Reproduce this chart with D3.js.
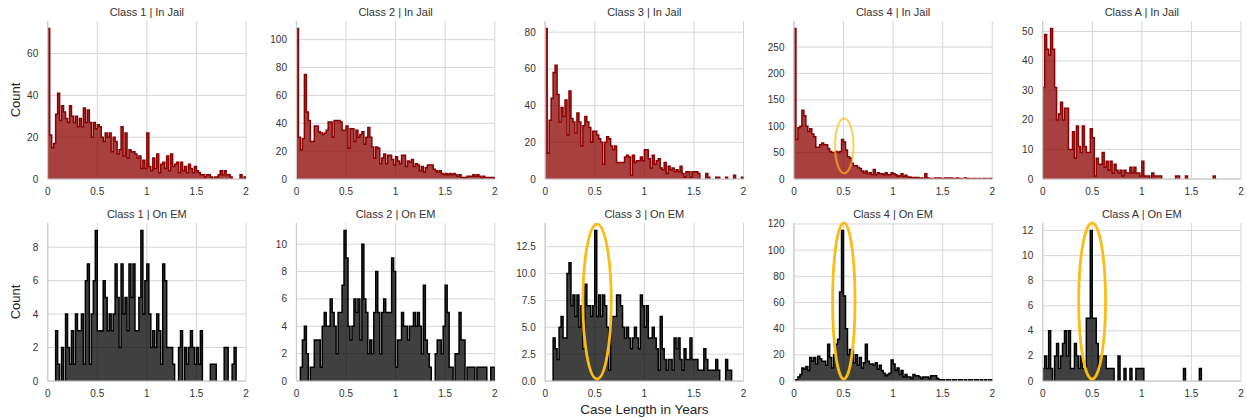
<!DOCTYPE html>
<html>
<head>
<meta charset="utf-8">
<script src="https://cdn.jsdelivr.net/npm/d3@7"></script>
<style>
  body { margin: 0; background: #fff; }
  text { font-family: "Liberation Sans", Arial, sans-serif; }
</style>
</head>
<body>
<svg id="chart" width="1247" height="419"></svg>
<script>
// bins of 0.02 years, starting at 0
var binWidth = 0.02;
var classes = ["Class 1", "Class 2", "Class 3", "Class 4", "Class A"];
var statuses = ["In Jail", "On EM"];
var xTicks = [0, 0.5, 1, 1.5, 2];

var jail1 = [72,21,15,17,31,41,28,35,32,29, 27,35,30,27,30,25,29,25,34,27,
  33,27,20,27,24,26,25,20,18,22, 20,22,13,20,18,12,14,25,11,22,
  10,14,13,13,12,10,11,5,9,5, 22,6,4,10,5,12,3,7,8,5,
  11,4,12,6,7,8,3,8,4,6, 3,7,5,3,6,4,3,2,2,1,
  2,2,1,0,1,1,2,4,2,4, 2,2,1,0,0,0,0,2,0,1];
var jail2 = [108,30,21,29,75,48,42,27,27,38, 38,34,33,32,33,35,41,41,30,42,
  42,42,41,35,35,38,22,36,36,27, 35,30,32,34,25,30,37,30,23,15,
  23,22,11,15,18,11,17,17,14,10, 16,13,11,17,17,9,13,12,14,9,
  11,10,6,9,5,8,10,10,10,7, 6,5,6,4,3,4,3,4,3,4,
  3,2,3,1,1,1,2,2,2,3, 2,3,2,1,2,1,1,1,1,1];
var jail3 = [82,14,32,44,58,62,46,31,39,34, 43,24,48,33,31,25,36,31,18,29,
  34,31,28,20,26,26,24,22,20,8, 20,23,22,18,16,18,9,9,9,9,
  12,13,12,2,13,9,10,10,12,10, 16,16,11,6,13,8,10,11,6,5,
  9,3,7,5,6,4,5,4,7,3, 1,4,4,1,4,4,4,3,0,0,
  0,3,1,0,0,0,1,1,0,0, 0,1,0,0,0,2,0,0,0,1];
var jail4 = [285,75,97,100,130,120,100,90,95,85, 80,60,60,65,68,65,65,58,52,50,
  50,52,50,52,75,70,55,42,40,30, 25,25,22,20,15,12,15,10,12,8,
  18,8,12,10,10,8,12,8,8,12, 10,8,5,6,10,5,7,4,4,3,
  3,3,3,2,2,1,10,2,1,1, 0,2,2,2,1,1,2,1,2,2,
  1,1,2,1,1,0,2,1,1,0, 1,1,0,1,0,1,1,0,1,1];
var jailA = [31,49,44,42,51,44,31,20,22,26, 20,24,24,10,10,16,7,18,11,9,
  18,11,9,9,17,14,1,7,5,5, 9,4,6,3,6,2,5,3,2,3,
  1,3,2,2,4,2,4,2,2,1, 6,1,1,1,0,2,1,1,1,1,
  0,0,0,0,0,0,0,1,1,0, 0,0,1,0,0,0,0,0,0,0,
  0,0,0,0,0,0,1,0,0,0, 0,0,0,0,0,0,0,0,0,0];

var em1 = [0,0,0,0,3,1,0,2,0,4, 2,1,3,1,4,3,3,4,1,6,
  7,1,4,6,9,3,3,3,6,5, 3,4,3,4,7,5,2,7,4,5,
  3,7,5,7,3,3,5,9,4,6, 7,4,2,3,2,4,3,1,7,6,
  2,2,2,1,0,0,2,3,0,2, 1,2,3,2,1,2,1,3,0,0,
  0,0,1,1,1,0,0,0,0,2, 2,0,0,1,2,0,0,0,0,0];
var em2 = [0,0,1,3,4,2,0,1,1,3, 3,3,1,4,5,4,4,6,5,4,
  2,5,5,7,11,9,4,3,4,6, 5,6,3,10,6,5,2,3,2,5,
  8,5,2,5,6,5,5,5,9,8, 1,3,3,5,4,4,3,4,4,5,
  4,5,4,2,7,3,2,1,0,0, 2,3,3,2,4,7,5,1,1,0,
  2,2,5,3,3,0,1,1,1,1, 0,1,1,1,1,1,0,0,1,1];
var em3 = [0,0,0,0,4,3,2,5,6,4, 4,10,11,7,8,6,8,5,7,3,
  9,7,7,6,7,14,6,8,6,8, 7,5,1,6,6,6,8,8,7,5,
  4,5,4,3,4,5,4,3,8,7, 5,7,4,4,5,4,3,1,6,3,
  2,1,2,2,1,4,3,4,2,1, 3,2,2,4,2,2,2,1,1,1,
  3,2,1,1,1,1,2,1,0,0, 0,2,1,1,0,0,0,0,0,0];
var em4 = [0,1,3,5,10,9,11,8,18,15, 18,13,19,17,15,15,12,28,18,10,
  20,28,32,68,115,65,40,20,24,24, 14,20,12,18,10,14,28,15,13,13,
  12,14,9,12,8,6,4,5,6,16, 13,8,10,5,8,3,5,3,3,2,
  5,4,4,3,2,3,3,3,2,4, 4,4,2,1,1,1,0,1,1,0,
  1,1,0,1,1,0,1,0,1,1, 0,1,1,0,1,0,1,0,1,1];
var emA = [1,2,1,4,1,0,2,3,1,2, 3,4,2,4,1,1,3,2,1,2,
  1,1,5,5,12,5,5,3,1,2, 2,2,1,1,1,1,0,0,2,0,
  0,1,0,0,1,0,0,1,1,1, 1,0,0,0,0,0,0,0,0,0,
  0,0,0,0,0,0,0,0,0,0, 0,1,0,0,0,0,0,0,0,1,
  0,0,0,0,0,0,0,0,0,0, 0,0,0,0,0,0,0,0,0,0];

var jailCounts = [jail1, jail2, jail3, jail4, jailA];
var emCounts = [em1, em2, em3, em4, emA];

var jailTicks = [[0,20,40,60], [0,20,40,60,80,100], [0,20,40,60,80],
  [0,50,100,150,200,250], [0,10,20,30,40,50]];
var emTicks = [[0,2,4,6,8], [0,2,4,6,8,10], [0,2.5,5,7.5,10,12.5],
  [0,20,40,60,80,100,120], [0,2,4,6,8,10,12]];

// highlighted spikes (data coordinates of each panel)
var highlights = [
  {row: 0, col: 3, x: [0.414, 0.6], y: [10.8, 115], faint: true},
  {row: 1, col: 2, x: [0.38, 0.666], y: [0.19, 14.6]},
  {row: 1, col: 3, x: [0.39, 0.616], y: [1.5, 120.8]},
  {row: 1, col: 4, x: [0.363, 0.634], y: [0.16, 12.6]}
];

var svg = d3.select("#chart"),
    left0 = 47.7, colStep = 248.75,
    plotW = 198.3, plotH = 158,
    rowTop = [21, 223];

var rows = [
  {counts: jailCounts, ticks: jailTicks, color: "darkred"},
  {counts: emCounts, ticks: emTicks, color: "black"}
];

rows.forEach(function(row, r) {
  row.counts.forEach(function(counts, c) {
    var g = svg.append("g")
        .attr("transform", "translate(" + (left0 + c * colStep) + "," + rowTop[r] + ")");

    var x = d3.scaleLinear().domain([0, 2]).range([0, plotW]);
    var y = d3.scaleLinear().domain([0, d3.max(counts) * 1.05]).range([plotH, 0]);
    var ticks = row.ticks[c];
    var fmt = ticks.some(function(t) { return t % 1; }) ? d3.format(".1f") : d3.format("");

    // grid
    g.selectAll(".hg").data(ticks).enter().append("line")
        .attr("x1", 0).attr("x2", plotW)
        .attr("y1", function(d) { return y(d); }).attr("y2", function(d) { return y(d); })
        .attr("stroke", "#d6d6d6").attr("stroke-width", 1);
    g.selectAll(".vg").data(xTicks).enter().append("line")
        .attr("y1", 0).attr("y2", plotH)
        .attr("x1", function(d) { return x(d); }).attr("x2", function(d) { return x(d); })
        .attr("stroke", "#d6d6d6").attr("stroke-width", 1);

    var clipId = "clip" + r + c;
    g.append("clipPath").attr("id", clipId).append("rect")
        .attr("x", 0).attr("y", -2).attr("width", plotW).attr("height", plotH + 2);

    // split into runs of non-empty bins
    var runs = [], cur = null;
    counts.forEach(function(v, i) {
      if (v > 0) {
        if (!cur) { cur = []; runs.push(cur); }
        cur.push([i * binWidth, v]);
      } else cur = null;
    });

    var area = d3.area()
        .x(function(d) { return x(d[0]); })
        .y0(y(0))
        .y1(function(d) { return y(d[1]); });
    var line = d3.line()
        .x(function(d) { return x(d[0]); })
        .y(function(d) { return y(d[1]); });

    var hg = g.append("g").attr("clip-path", "url(#" + clipId + ")");
    runs.forEach(function(run) {
      var pts = [];
      run.forEach(function(b) {
        pts.push([b[0], b[1]]);
        pts.push([b[0] + binWidth, b[1]]);
      });
      hg.append("path").attr("d", area(pts))
          .attr("fill", row.color).attr("fill-opacity", 0.75);
      var outline = [[run[0][0], 0]].concat(pts, [[pts[pts.length - 1][0], 0]]);
      hg.append("path").attr("d", line(outline))
          .attr("fill", "none").attr("stroke", row.color)
          .attr("stroke-width", 1.5).attr("stroke-linejoin", "miter");
    });

    // spines (left + bottom)
    g.append("line").attr("x1", 0).attr("x2", 0).attr("y1", 0).attr("y2", plotH)
        .attr("stroke", "#cccccc").attr("stroke-width", 1.25);
    g.append("line").attr("x1", 0).attr("x2", plotW).attr("y1", plotH).attr("y2", plotH)
        .attr("stroke", "#cccccc").attr("stroke-width", 1.25);

    // tick labels
    g.selectAll(".yt").data(ticks).enter().append("text")
        .attr("x", -9.5).attr("y", function(d) { return y(d); })
        .attr("dy", "0.35em").attr("text-anchor", "end")
        .attr("font-size", 10).attr("fill", "#333")
        .text(fmt);
    g.selectAll(".xt").data(xTicks).enter().append("text")
        .attr("x", function(d) { return x(d); }).attr("y", plotH + 12.5)
        .attr("dy", "0.35em").attr("text-anchor", "middle")
        .attr("font-size", 10).attr("fill", "#333")
        .text(function(d) { return d3.format("")(d); });

    g.append("text")
        .attr("x", plotW / 2).attr("y", -5)
        .attr("text-anchor", "middle").attr("font-size", 11).attr("fill", "#333")
        .text(classes[c] + " | " + statuses[r]);

    highlights.filter(function(h) { return h.row === r && h.col === c; }).forEach(function(h) {
      g.append("ellipse")
          .attr("cx", (x(h.x[0]) + x(h.x[1])) / 2)
          .attr("cy", (y(h.y[0]) + y(h.y[1])) / 2)
          .attr("rx", Math.abs(x(h.x[1]) - x(h.x[0])) / 2)
          .attr("ry", Math.abs(y(h.y[1]) - y(h.y[0])) / 2)
          .attr("fill", "none").attr("stroke", "#fbbc16")
          .attr("stroke-width", h.faint ? 2.2 : 2.8)
          .attr("stroke-opacity", h.faint ? 0.65 : 1);
    });
  });

  svg.append("text")
      .attr("transform", "translate(15," + (rowTop[r] + plotH / 2) + ") rotate(-90)")
      .attr("dy", "0.35em").attr("text-anchor", "middle")
      .attr("font-size", 13).attr("fill", "#262626")
      .text("Count");
});

svg.append("text")
    .attr("x", left0 + 2 * colStep + plotW / 2).attr("y", 409)
    .attr("dy", "0.35em").attr("text-anchor", "middle")
    .attr("font-size", 13.5).attr("fill", "#262626")
    .text("Case Length in Years");
</script>
</body>
</html>
